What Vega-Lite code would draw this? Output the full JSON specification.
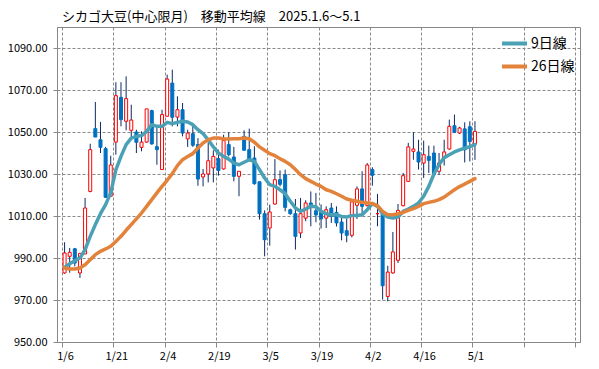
{
  "$schema": "https://vega.github.io/schema/vega-lite/v6.json",
  "width": 523,
  "height": 315,
  "autosize": {"type": "none"},
  "padding": {"left": 57, "top": 27, "right": 19, "bottom": 27},
  "background": "white",
  "title": {"text": "シカゴ大豆(中心限月)　移動平均線　2025.1.6～5.1", "anchor": "start", "frame": "group", "dx": 5, "offset": 3, "fontSize": 13, "fontWeight": "normal", "font": "Noto Sans CJK JP", "color": "#000000"},
  "config": {"view": {"stroke": "#888888", "strokeWidth": 1}, "font": "Noto Sans CJK JP"},
  "data": {"values": [
    {"i":0,"d":"1/6","o":982.9,"h":997.5,"l":982.5,"c":992.4,"9日線":985.5,"26日線":985.2},
    {"i":1,"d":"1/7","o":990.8,"h":994.8,"l":983.0,"c":992.7,"9日線":987.3,"26日線":984.8},
    {"i":2,"d":"1/8","o":994.4,"h":994.8,"l":986.0,"c":987.6,"9日線":988.7,"26日線":984.8},
    {"i":3,"d":"1/9","o":982.9,"h":992.4,"l":980.5,"c":992.2,"9日線":990.0,"26日線":985.2},
    {"i":4,"d":"1/10","o":991.9,"h":1018.6,"l":991.9,"c":1013.8,"9日線":994.0,"26日線":986.8},
    {"i":5,"d":"1/13","o":1021.7,"h":1044.4,"l":1021.3,"c":1041.6,"9日線":1000.3,"26日線":989.2},
    {"i":6,"d":"1/14","o":1051.6,"h":1064.3,"l":1047.6,"c":1047.6,"9日線":1005.9,"26日線":991.6},
    {"i":7,"d":"1/15","o":1046.3,"h":1054.8,"l":1040.0,"c":1042.7,"9日線":1011.1,"26日線":993.2},
    {"i":8,"d":"1/16","o":1042.1,"h":1042.9,"l":1018.6,"c":1018.9,"9日線":1015.4,"26日線":994.3},
    {"i":9,"d":"1/17","o":1019.4,"h":1038.7,"l":1019.4,"c":1034.3,"9日線":1021.0,"26日線":995.6},
    {"i":10,"d":"1/21","o":1045.2,"h":1073.7,"l":1039.2,"c":1067.3,"9日線":1032.0,"26日線":997.9},
    {"i":11,"d":"1/22","o":1066.5,"h":1073.7,"l":1052.7,"c":1055.9,"9日線":1038.4,"26日線":1000.3},
    {"i":12,"d":"1/23","o":1055.1,"h":1076.5,"l":1050.8,"c":1065.9,"9日線":1044.0,"26日線":1003.2},
    {"i":13,"d":"1/24","o":1050.8,"h":1063.0,"l":1047.1,"c":1055.7,"9日線":1047.1,"26日線":1005.9},
    {"i":14,"d":"1/27","o":1050.0,"h":1051.1,"l":1040.0,"c":1045.1,"9日線":1047.9,"26日線":1008.6},
    {"i":15,"d":"1/28","o":1042.7,"h":1050.3,"l":1040.8,"c":1045.2,"9日線":1048.3,"26日線":1011.4},
    {"i":16,"d":"1/29","o":1045.2,"h":1061.0,"l":1044.8,"c":1061.0,"9日線":1050.3,"26日線":1014.6},
    {"i":17,"d":"1/30","o":1060.2,"h":1060.6,"l":1044.0,"c":1044.3,"9日線":1053.5,"26日線":1017.8},
    {"i":18,"d":"1/31","o":1043.0,"h":1052.7,"l":1034.4,"c":1041.6,"9日線":1052.7,"26日線":1021.0},
    {"i":19,"d":"2/3","o":1032.1,"h":1060.6,"l":1032.1,"c":1058.3,"9日線":1052.7,"26日線":1024.1},
    {"i":20,"d":"2/4","o":1057.5,"h":1077.3,"l":1057.5,"c":1075.2,"9日線":1054.6,"26日線":1027.0},
    {"i":21,"d":"2/5","o":1073.3,"h":1079.7,"l":1052.7,"c":1057.0,"9日線":1054.0,"26日線":1030.2},
    {"i":22,"d":"2/6","o":1057.1,"h":1067.0,"l":1052.7,"c":1060.6,"9日線":1054.6,"26日線":1034.0},
    {"i":23,"d":"2/7","o":1060.6,"h":1063.8,"l":1047.9,"c":1049.5,"9日線":1055.1,"26日線":1036.8},
    {"i":24,"d":"2/10","o":1046.7,"h":1051.1,"l":1042.9,"c":1049.5,"9日線":1054.8,"26日線":1038.3},
    {"i":25,"d":"2/11","o":1049.2,"h":1053.0,"l":1042.9,"c":1043.7,"9日線":1053.5,"26日線":1039.7},
    {"i":26,"d":"2/12","o":1044.0,"h":1047.1,"l":1024.4,"c":1027.6,"9日線":1051.1,"26日線":1042.4},
    {"i":27,"d":"2/13","o":1028.6,"h":1032.4,"l":1024.1,"c":1030.0,"9日線":1049.2,"26日線":1044.8},
    {"i":28,"d":"2/14","o":1030.0,"h":1045.1,"l":1026.0,"c":1036.3,"9日線":1046.3,"26日線":1046.3},
    {"i":29,"d":"2/18","o":1032.9,"h":1041.3,"l":1026.0,"c":1038.4,"9日線":1042.9,"26日線":1047.1},
    {"i":30,"d":"2/19","o":1037.3,"h":1041.6,"l":1029.2,"c":1031.7,"9日線":1040.0,"26日線":1047.1},
    {"i":31,"d":"2/20","o":1032.4,"h":1048.7,"l":1032.1,"c":1045.9,"9日線":1038.4,"26日線":1046.8},
    {"i":32,"d":"2/21","o":1044.0,"h":1049.9,"l":1038.4,"c":1039.2,"9日線":1037.1,"26日線":1046.7},
    {"i":33,"d":"2/24","o":1038.1,"h":1042.9,"l":1026.5,"c":1028.9,"9日線":1035.2,"26日線":1046.8},
    {"i":34,"d":"2/25","o":1028.9,"h":1031.3,"l":1019.4,"c":1031.3,"9日線":1034.4,"26日線":1046.8},
    {"i":35,"d":"2/26","o":1047.9,"h":1050.8,"l":1041.3,"c":1041.3,"9日線":1035.6,"26日線":1047.1},
    {"i":36,"d":"2/27","o":1041.6,"h":1051.6,"l":1036.0,"c":1036.5,"9日線":1036.8,"26日線":1046.8},
    {"i":37,"d":"2/28","o":1037.6,"h":1043.2,"l":1024.9,"c":1025.4,"9日線":1036.0,"26日線":1045.1},
    {"i":38,"d":"3/3","o":1026.3,"h":1026.3,"l":1008.3,"c":1011.1,"9日線":1032.1,"26日線":1042.9},
    {"i":39,"d":"3/4","o":1011.1,"h":1012.7,"l":990.8,"c":998.7,"9日線":1028.1,"26日線":1041.3},
    {"i":40,"d":"3/5","o":1004.3,"h":1015.4,"l":995.9,"c":1011.9,"9日線":1024.9,"26日線":1039.7},
    {"i":41,"d":"3/6","o":1015.7,"h":1037.1,"l":1015.4,"c":1027.3,"9日線":1024.1,"26日線":1038.7},
    {"i":42,"d":"3/7","o":1027.3,"h":1031.7,"l":1024.1,"c":1025.1,"9日線":1022.5,"26日線":1037.3},
    {"i":43,"d":"3/10","o":1029.7,"h":1032.1,"l":1012.2,"c":1014.1,"9日線":1020.6,"26日線":1036.0},
    {"i":44,"d":"3/11","o":1013.0,"h":1013.5,"l":1010.6,"c":1011.1,"9日線":1017.0,"26日線":1034.4},
    {"i":45,"d":"3/12","o":1011.1,"h":1018.1,"l":994.0,"c":1000.3,"9日線":1013.8,"26日線":1032.1},
    {"i":46,"d":"3/13","o":1001.9,"h":1018.6,"l":999.5,"c":1011.1,"9日線":1012.2,"26日線":1029.7},
    {"i":47,"d":"3/14","o":1009.0,"h":1017.5,"l":1007.5,"c":1016.2,"9日線":1013.3,"26日線":1027.8},
    {"i":48,"d":"3/17","o":1016.2,"h":1021.7,"l":1005.1,"c":1014.6,"9日線":1014.6,"26日線":1026.5},
    {"i":49,"d":"3/18","o":1012.5,"h":1021.0,"l":1007.0,"c":1010.5,"9日線":1014.4,"26日線":1025.2},
    {"i":50,"d":"3/19","o":1011.7,"h":1015.5,"l":1004.0,"c":1008.6,"9日線":1012.2,"26日線":1024.1},
    {"i":51,"d":"3/20","o":1009.0,"h":1014.6,"l":1004.3,"c":1013.0,"9日線":1011.1,"26日線":1022.5},
    {"i":52,"d":"3/21","o":1013.8,"h":1016.2,"l":1006.7,"c":1009.8,"9日線":1010.6,"26日線":1021.7},
    {"i":53,"d":"3/24","o":1011.7,"h":1014.6,"l":1005.0,"c":1006.7,"9日線":1010.6,"26日線":1020.6},
    {"i":54,"d":"3/25","o":1007.1,"h":1009.8,"l":998.4,"c":1001.9,"9日線":1009.8,"26日線":1019.4},
    {"i":55,"d":"3/26","o":1003.0,"h":1008.6,"l":997.5,"c":1000.8,"9日線":1009.5,"26日線":1018.1},
    {"i":56,"d":"3/27","o":1000.8,"h":1018.1,"l":999.8,"c":1016.7,"9日線":1010.2,"26日線":1017.5},
    {"i":57,"d":"3/28","o":1015.1,"h":1024.1,"l":1008.6,"c":1022.9,"9日線":1010.2,"26日線":1017.0},
    {"i":58,"d":"3/31","o":1022.9,"h":1031.3,"l":1009.8,"c":1014.6,"9日線":1010.6,"26日線":1016.5},
    {"i":59,"d":"4/1","o":1014.9,"h":1035.2,"l":1014.6,"c":1034.3,"9日線":1013.0,"26日線":1016.2},
    {"i":60,"d":"4/2","o":1032.1,"h":1033.2,"l":1024.4,"c":1029.4,"9日線":1015.9,"26日線":1015.9},
    {"i":61,"d":"4/3","o":1011.1,"h":1020.5,"l":1005.1,"c":1011.1,"9日線":1014.6,"26日線":1014.9},
    {"i":62,"d":"4/4","o":1011.1,"h":1012.0,"l":970.2,"c":976.8,"9日線":1011.1,"26日線":1012.2},
    {"i":63,"d":"4/7","o":971.7,"h":986.3,"l":969.4,"c":983.3,"9日線":1009.5,"26日線":1010.6},
    {"i":64,"d":"4/8","o":982.9,"h":1002.4,"l":982.5,"c":992.9,"9日線":1009.0,"26日線":1010.6},
    {"i":65,"d":"4/9","o":988.9,"h":1015.7,"l":987.6,"c":1012.7,"9日線":1009.5,"26日線":1011.1},
    {"i":66,"d":"4/10","o":1014.9,"h":1030.5,"l":1014.6,"c":1029.2,"9日線":1012.2,"26日線":1011.7},
    {"i":67,"d":"4/11","o":1026.5,"h":1044.8,"l":1026.5,"c":1042.9,"9日線":1013.3,"26日線":1012.7},
    {"i":68,"d":"4/14","o":1040.8,"h":1049.9,"l":1036.8,"c":1041.9,"9日線":1014.6,"26日線":1013.5},
    {"i":69,"d":"4/15","o":1040.5,"h":1046.3,"l":1032.1,"c":1035.7,"9日線":1016.2,"26日線":1014.6},
    {"i":70,"d":"4/16","o":1035.2,"h":1045.9,"l":1028.1,"c":1039.2,"9日線":1019.4,"26日線":1015.9},
    {"i":71,"d":"4/17","o":1038.4,"h":1043.5,"l":1030.5,"c":1036.5,"9日線":1024.1,"26日線":1016.5},
    {"i":72,"d":"4/21","o":1040.0,"h":1043.5,"l":1028.9,"c":1029.7,"9日線":1030.0,"26日線":1017.0},
    {"i":73,"d":"4/22","o":1031.3,"h":1040.0,"l":1029.7,"c":1035.2,"9日線":1034.5,"26日線":1017.8},
    {"i":74,"d":"4/23","o":1037.6,"h":1046.3,"l":1034.0,"c":1040.5,"9日線":1037.8,"26日線":1019.0},
    {"i":75,"d":"4/24","o":1041.9,"h":1055.9,"l":1041.6,"c":1052.7,"9日線":1039.2,"26日線":1020.8},
    {"i":76,"d":"4/25","o":1053.0,"h":1058.3,"l":1049.5,"c":1049.8,"9日線":1040.5,"26日線":1022.5},
    {"i":77,"d":"4/28","o":1049.5,"h":1052.5,"l":1049.0,"c":1051.9,"9日線":1041.5,"26日線":1024.0},
    {"i":78,"d":"4/29","o":1051.5,"h":1054.6,"l":1035.5,"c":1041.5,"9日線":1042.3,"26日線":1025.2},
    {"i":79,"d":"4/30","o":1052.5,"h":1055.1,"l":1036.0,"c":1045.5,"9日線":1043.0,"26日線":1026.5},
    {"i":80,"d":"5/1","o":1044.4,"h":1055.1,"l":1036.7,"c":1050.3,"9日線":1044.0,"26日線":1027.8}
  ]},
  "encoding": {
    "x": {
      "field": "i", "type": "quantitative",
      "scale": {"domain": [-0.5, 99.5], "nice": false, "zero": false},
      "axis": {
        "title": null,
        "values": [-0.5, 9.5, 19.5, 29.5, 39.5, 49.5, 59.5, 69.5, 79.5, 89.5, 99.5],
        "labelExpr": "['1/6','1/21','2/4','2/19','3/5','3/19','4/2','4/16','5/1','',''][round((datum.value + 0.5) / 10)]",
        "labelOffset": 3, "labelFlush": false, "labelOverlap": false,
        "labelFontSize": 11, "labelColor": "#000000", "labelPadding": 3,
        "grid": true, "gridDash": [3, 2], "gridColor": "#888888",
        "domainColor": "#888888", "tickColor": "#888888", "tickSize": 5
      }
    }
  },
  "layer": [
    {
      "mark": {"type": "rule", "color": "#0B2A66", "strokeWidth": 1},
      "encoding": {
        "y": {"field": "l", "type": "quantitative", "scale": {"domain": [950, 1100], "nice": false, "zero": false},
          "axis": {"title": null, "values": [950, 970, 990, 1010, 1030, 1050, 1070, 1090], "format": ".2f", "labelFontSize": 11, "labelColor": "#000000", "labelPadding": 6, "grid": true, "gridDash": [3, 2], "gridColor": "#888888", "domainColor": "#888888", "tickColor": "#888888", "tickSize": 4}},
        "y2": {"field": "h"}
      }
    },
    {
      "mark": {"type": "bar", "width": 3, "strokeWidth": 1},
      "encoding": {
        "y": {"field": "o", "type": "quantitative",
          "axis": {"title": null, "values": [950, 970, 990, 1010, 1030, 1050, 1070, 1090], "format": ".2f", "labelFontSize": 11, "labelColor": "#000000", "labelPadding": 6, "grid": true, "gridDash": [3, 2], "gridColor": "#888888", "domainColor": "#888888", "tickColor": "#888888", "tickSize": 4}},
        "y2": {"field": "c"},
        "fill": {"condition": {"test": "datum.c >= datum.o", "value": "#FFFFFF"}, "value": "#0070C0"},
        "stroke": {"condition": {"test": "datum.c >= datum.o", "value": "#FF0000"}, "value": "#0070C0"}
      }
    },
    {
      "transform": [{"fold": ["9日線", "26日線"], "as": ["k", "v"]}],
      "mark": {"type": "line", "strokeWidth": 3.5, "strokeJoin": "round", "strokeCap": "round"},
      "encoding": {
        "y": {"field": "v", "type": "quantitative",
          "axis": {"title": null, "values": [950, 970, 990, 1010, 1030, 1050, 1070, 1090], "format": ".2f", "labelFontSize": 11, "labelColor": "#000000", "labelPadding": 6, "grid": true, "gridDash": [3, 2], "gridColor": "#888888", "domainColor": "#888888", "tickColor": "#888888", "tickSize": 4}},
        "color": {
          "field": "k", "type": "nominal",
          "scale": {"domain": ["9日線", "26日線"], "range": ["#4AA0B5", "#E3823A"]},
          "legend": {"title": null, "orient": "none", "legendX": 443, "legendY": 2, "symbolType": "stroke", "symbolSize": 625, "symbolStrokeWidth": 4, "labelFontSize": 14, "labelOffset": 2, "rowPadding": -1, "labelColor": "#000000", "labelFont": "Noto Sans CJK JP"}
        },
        "order": {"field": "i", "type": "quantitative"}
      }
    }
  ]
}
